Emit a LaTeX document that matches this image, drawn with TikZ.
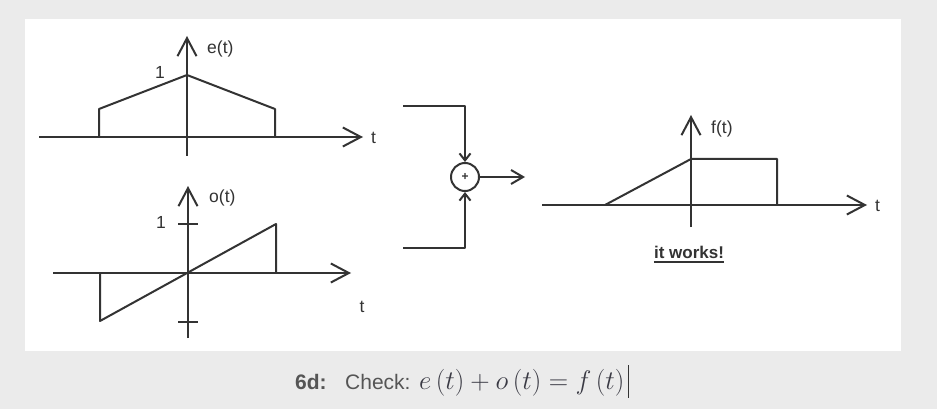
\documentclass[tikz,border=0pt]{standalone}
\usepackage{graphicx}
\usepackage[no-math]{fontspec}
\setmainfont{Liberation Sans}
\usetikzlibrary{arrows.meta}
\definecolor{bg}{HTML}{EBEBEB}
\definecolor{ink}{HTML}{333333}
\definecolor{mathink}{HTML}{3A3A44}
\definecolor{captxt}{HTML}{555555}
\tikzset{
  plotline/.style={draw=ink, line width=2pt, line join=round},
  axis/.style={plotline, -{Straight Barb[length=18pt,width=19pt,line width=2pt]}},
  wire/.style={plotline, -{Straight Barb[length=7pt,width=11pt,line width=2pt]}},
  outwire/.style={plotline, -{Straight Barb[length=12pt,width=14pt,line width=2pt]}},
  lbl/.style={inner sep=0pt, text=ink, font=\fontsize{17.5}{19}\selectfont},
  sumnode/.style={circle, draw=ink, line width=2pt, minimum size=28pt, inner sep=0pt, font=\fontsize{12}{12}\selectfont\bfseries, text=ink},
}
\begin{document}
\begin{tikzpicture}[x=1pt, y=-1pt]
  \useasboundingbox (0,0) rectangle (937,409);
  \fill[bg] (0,0) rectangle (937,409);
  \fill[white] (25,19) rectangle (901,351);

  % ---- e(t) plot ----
  \draw[axis] (39,137) -- (363,137);
  \draw[axis] (187,156) -- (187,36);
  \draw[plotline] (99,137) -- (99,109) -- (187,75) -- (275,109) -- (275,137);
  \node[lbl, anchor=west] (elbl) at (207,49) {e(t)};
  \node[lbl] (eone) at (160,72) {1};
  \node[lbl, anchor=west] (et) at (371,138) {t};

  % ---- o(t) plot ----
  \draw[axis] (53,273) -- (351,273);
  \draw[axis] (188,338) -- (188,186);
  \draw[plotline] (178,224) -- (198,224);
  \draw[plotline] (178,322) -- (198,322);
  \draw[plotline] (100,273) -- (100,321) -- (276,224) -- (276,273);
  \node[lbl, anchor=west] (olbl) at (209,198) {o(t)};
  \node[lbl] (oone) at (161,222) {1};
  \node[lbl] (ot) at (362,307) {t};

  % ---- summing junction ----
  \node[sumnode] (sum) at (465,177) {+};
  \coordinate (inA) at (403,106);
  \coordinate (inB) at (403,248);
  \coordinate (outC) at (525,177);
  \draw[wire] (inA) -| (sum.north);
  \draw[wire] (inB) -| (sum.south);
  \draw[outwire] (sum.east) -- (outC);

  % ---- f(t) plot ----
  \draw[axis] (542,205) -- (867,205);
  \draw[axis] (691,227) -- (691,115);
  \draw[plotline] (605,205) -- (691,159) -- (777,159) -- (777,205);
  \node[lbl, anchor=west] (flbl) at (711,129) {f(t)};
  \node[lbl, anchor=west] (ft) at (875,206) {t};
  \node[inner sep=0pt, anchor=base, text=ink, font=\fontsize{17}{19}\selectfont\bfseries] (works) at (689,258) {it works!};
  \draw[draw=ink, line width=2pt] ([yshift=-3.5pt]works.base west) -- ([yshift=-3.5pt]works.base east);

  % ---- caption ----
  \node[inner sep=0pt, anchor=base west, text=captxt, font=\fontsize{21}{24}\selectfont\bfseries] (capnum) at (295,389) {6d:};
  \node[inner sep=0pt, anchor=base west, text=captxt, font=\fontsize{21}{24}\selectfont] (capchk) at (345,389) {Check:};
  \node[inner sep=0pt, anchor=base west, text=mathink, font=\fontsize{24.88}{30}\selectfont] (capmath) at (419,389) {\scalebox{1.08}{$e\left(t\right)+o\left(t\right)=f\left(t\right)$}};
  \draw[ink, line width=1.5pt] ([xshift=4pt]capmath.east |- 0,365) -- ([xshift=4pt]capmath.east |- 0,398);
\end{tikzpicture}
\end{document}
